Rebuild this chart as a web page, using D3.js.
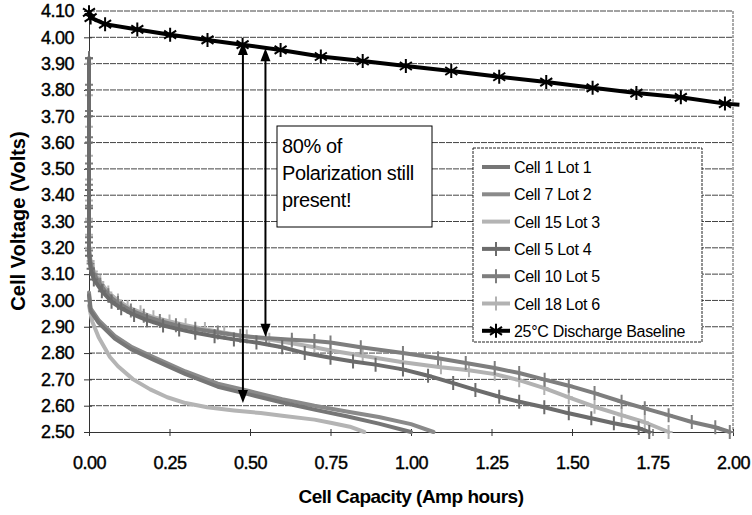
<!DOCTYPE html>
<html>
<head>
<meta charset="utf-8">
<script src="https://cdn.jsdelivr.net/npm/d3@7"></script>
<style>
  body { margin: 0; background: #fff; }
  text { font-family: "Liberation Sans", Arial, sans-serif; fill: #000; }
</style>
</head>
<body>
<div id="chart"></div>
<script>
// tick values
var xTicks = [0, 0.25, 0.5, 0.75, 1.0, 1.25, 1.5, 1.75, 2.0]
var yTicks = [2.5, 2.6, 2.7, 2.8, 2.9, 3.0, 3.1, 3.2, 3.3, 3.4, 3.5, 3.6, 3.7, 3.8, 3.9, 4.0, 4.1]

// legend labels and series colours (grey shades of the scan)
var seriesNames = ['Cell 1 Lot 1', 'Cell 7 Lot 2', 'Cell 15 Lot 3', 'Cell 5 Lot 4', 'Cell 10 Lot 5', 'Cell 18 Lot 6', '25°C Discharge Baseline']
var seriesColors = ['#767676', '#8a8a8a', '#b4b4b4', '#6c6c6c', '#7e7e7e', '#b2b2b2', '#000']
var seriesMarkers = ['none', 'none', 'none', 'plus', 'plus', 'plus', 'star']

// [capacity Ah, voltage V]
var lot1 = [[0, 3.02], [0.005, 2.96], [0.03, 2.915], [0.08, 2.855], [0.13, 2.815], [0.2, 2.775], [0.3, 2.72], [0.4, 2.672], [0.5, 2.642], [0.6, 2.612], [0.7, 2.585], [0.8, 2.56], [0.9, 2.532], [1.0, 2.50]]
var lot2 = [[0, 3.03], [0.005, 2.97], [0.03, 2.925], [0.08, 2.865], [0.13, 2.825], [0.2, 2.785], [0.3, 2.73], [0.4, 2.684], [0.5, 2.655], [0.6, 2.625], [0.7, 2.6], [0.8, 2.578], [0.9, 2.557], [1.0, 2.53], [1.07, 2.50]]
var lot3 = [[0, 2.98], [0.01, 2.92], [0.03, 2.86], [0.065, 2.785], [0.09, 2.75], [0.137, 2.70], [0.19, 2.662], [0.243, 2.632], [0.3, 2.61], [0.367, 2.594], [0.45, 2.582], [0.533, 2.572], [0.6, 2.562], [0.7, 2.547], [0.75, 2.535], [0.81, 2.52], [0.855, 2.50]]
var lot4 = [[0, 3.92], [0, 3.80], [0, 3.70], [0, 3.60], [0, 3.50], [0, 3.42], [0, 3.35], [0, 3.28], [0, 3.22], [0, 3.17], [0.005, 3.12], [0.015, 3.08], [0.04, 3.035], [0.07, 2.995], [0.1, 2.97], [0.14, 2.945], [0.18, 2.925], [0.23, 2.905], [0.28, 2.89], [0.33, 2.877], [0.39, 2.864], [0.45, 2.852], [0.52, 2.84], [0.6, 2.822], [0.67, 2.80], [0.75, 2.782], [0.82, 2.768], [0.89, 2.756], [0.975, 2.738], [1.053, 2.714], [1.131, 2.686], [1.2, 2.66], [1.274, 2.634], [1.336, 2.615], [1.414, 2.594], [1.49, 2.571], [1.56, 2.552], [1.63, 2.533], [1.707, 2.515], [1.74, 2.50]]
var lot5 = [[0, 3.92], [0, 3.82], [0, 3.72], [0, 3.62], [0, 3.52], [0, 3.44], [0, 3.36], [0, 3.30], [0, 3.24], [0, 3.19], [0.005, 3.14], [0.015, 3.10], [0.035, 3.06], [0.06, 3.02], [0.09, 2.99], [0.13, 2.962], [0.17, 2.942], [0.22, 2.922], [0.27, 2.906], [0.33, 2.892], [0.4, 2.878], [0.47, 2.866], [0.55, 2.857], [0.63, 2.851], [0.7, 2.846], [0.75, 2.84], [0.844, 2.822], [0.975, 2.80], [1.084, 2.78], [1.17, 2.762], [1.26, 2.743], [1.336, 2.724], [1.415, 2.699], [1.49, 2.676], [1.57, 2.648], [1.654, 2.615], [1.726, 2.59], [1.80, 2.564], [1.872, 2.538], [1.945, 2.518], [1.99, 2.50]]
var lot6 = [[0, 3.90], [0, 3.78], [0, 3.66], [0, 3.55], [0, 3.46], [0, 3.38], [0, 3.31], [0, 3.25], [0, 3.20], [0.005, 3.15], [0.015, 3.11], [0.035, 3.07], [0.06, 3.03], [0.09, 3.0], [0.12, 2.975], [0.16, 2.955], [0.2, 2.936], [0.25, 2.92], [0.3, 2.906], [0.36, 2.891], [0.42, 2.877], [0.49, 2.863], [0.56, 2.851], [0.63, 2.837], [0.7, 2.822], [0.75, 2.81], [0.85, 2.79], [0.975, 2.765], [1.093, 2.746], [1.18, 2.735], [1.26, 2.72], [1.336, 2.697], [1.414, 2.667], [1.49, 2.632], [1.57, 2.596], [1.654, 2.564], [1.726, 2.537], [1.80, 2.50]]
var baseline = [[0, 4.095], [0.005, 4.075], [0.05, 4.05], [0.15, 4.03], [0.252, 4.01], [0.368, 3.99], [0.477, 3.972], [0.595, 3.952], [0.72, 3.927], [0.85, 3.91], [0.984, 3.891], [1.125, 3.872], [1.274, 3.85], [1.42, 3.83], [1.564, 3.808], [1.70, 3.788], [1.838, 3.772], [1.975, 3.748]]
var baselineEnd = [2.02, 3.744]

// annotation: double arrows [x, top V, bottom V] and text box lines
var arrows = [[0.478, 3.982, 2.61], [0.548, 3.958, 2.862]]
var noteLines = ['80% of', 'Polarization still', 'present!']

var allSeries = [lot1, lot2, lot3, lot4, lot5, lot6, baseline]

var width = 752
var height = 515
var margin = { top: 11, right: 19, bottom: 83, left: 89 }

var svg = d3.select('#chart')
    .append('svg')
    .attr('width', width)
    .attr('height', height)

var x = d3.scaleLinear()
    .domain([0, 2])
    .range([margin.left, width - margin.right])

var y = d3.scaleLinear()
    .domain([2.5, 4.1])
    .range([height - margin.bottom, margin.top])

// horizontal grid lines
svg.append('g')
    .selectAll('line')
    .data(yTicks.slice(1))
    .enter()
    .append('line')
    .attr('x1', x(0))
    .attr('x2', x(2))
    .attr('y1', function (d) { return y(d) })
    .attr('y2', function (d) { return y(d) })
    .attr('stroke', '#444')
    .attr('stroke-width', 1)
    .attr('stroke-dasharray', '6,1')

// right border of the plot
svg.append('line')
    .attr('x1', x(2)).attr('x2', x(2))
    .attr('y1', y(4.1)).attr('y2', y(2.5))
    .attr('stroke', '#555')
    .attr('stroke-dasharray', '3,1')

// axes
var xAxis = svg.append('g')
    .attr('transform', 'translate(0,' + y(2.5) + ')')
    .call(d3.axisBottom(x).tickValues(xTicks).tickFormat(d3.format('.2f')).tickSizeInner(4).tickSizeOuter(0).tickPadding(20))
var yAxis = svg.append('g')
    .attr('transform', 'translate(' + x(0) + ',0)')
    .call(d3.axisLeft(y).tickValues(yTicks).tickFormat(d3.format('.2f')).tickSizeInner(5).tickSizeOuter(0).tickPadding(10))

// ticks cross the axis line a little
xAxis.selectAll('.tick line').attr('y1', -3).attr('stroke', '#333')
yAxis.selectAll('.tick line').attr('x1', 3).attr('stroke', '#333')
xAxis.select('.domain').attr('stroke', '#333')
yAxis.select('.domain').attr('stroke', '#333')

// scanned labels look heavy, so give them a thin outline
svg.selectAll('.tick text')
    .style('font-family', '"Liberation Sans", Arial, sans-serif')
    .style('font-size', '18px')
    .style('letter-spacing', '-0.5px')
    .attr('fill', '#000')
    .attr('stroke', '#000')
    .attr('stroke-width', 0.4)

// axis titles
svg.append('text')
    .attr('x', 411)
    .attr('y', 503)
    .attr('text-anchor', 'middle')
    .style('font-size', '19px')
    .style('font-weight', 'bold')
    .style('letter-spacing', '-0.5px')
    .text('Cell Capacity (Amp hours)')

svg.append('text')
    .attr('transform', 'translate(25,221) rotate(-90)')
    .attr('text-anchor', 'middle')
    .style('font-size', '20px')
    .style('font-weight', 'bold')
    .text('Cell Voltage (Volts)')

var line = d3.line()
    .x(function (d) { return x(d[0]) })
    .y(function (d) { return y(d[1]) })

// marker shapes
function markerPath(kind) {
    if (kind == 'plus') return 'M0,-7V7M-4,0H4'
    if (kind == 'star') return 'M0,-7V7M-6,-4L6,4M-6,4L6,-4'
    return ''
}

// draw the discharge curves, lower cells first so the upper bundle sits on top
var order = [2, 1, 0, 5, 4, 3]
order.forEach(function (i) {
    var data = allSeries[i]
    svg.append('path')
        .datum(data)
        .attr('d', line)
        .attr('fill', 'none')
        .attr('stroke', seriesColors[i])
        .attr('stroke-width', 4)
        .attr('stroke-linejoin', 'round')
        .attr('stroke-linecap', 'round')
    if (seriesMarkers[i] != 'none') {
        svg.append('g')
            .selectAll('path')
            .data(data)
            .enter()
            .append('path')
            .attr('transform', function (d) { return 'translate(' + x(d[0]) + ',' + y(d[1]) + ')' })
            .attr('d', markerPath(seriesMarkers[i]))
            .attr('stroke', seriesColors[i])
            .attr('stroke-width', 2)
    }
})

// baseline with star markers
svg.append('path')
    .datum(baseline.concat([baselineEnd]))
    .attr('d', line)
    .attr('fill', 'none')
    .attr('stroke', '#000')
    .attr('stroke-width', 4)
svg.append('g')
    .selectAll('path')
    .data(baseline)
    .enter()
    .append('path')
    .attr('transform', function (d) { return 'translate(' + x(d[0]) + ',' + y(d[1]) + ')' })
    .attr('d', markerPath('star'))
    .attr('stroke', '#000')
    .attr('stroke-width', 2)

// double headed arrows
var arrowG = svg.append('g')
arrows.forEach(function (a) {
    var ax = x(a[0]), top = y(a[1]), bot = y(a[2])
    arrowG.append('line')
        .attr('x1', ax).attr('x2', ax)
        .attr('y1', top + 10).attr('y2', bot - 10)
        .attr('stroke', '#000')
        .attr('stroke-width', 2)
    arrowG.append('path')
        .attr('d', 'M' + ax + ',' + top + 'l-5,13h10z')
        .attr('fill', '#000')
    arrowG.append('path')
        .attr('d', 'M' + ax + ',' + bot + 'l-5,-13h10z')
        .attr('fill', '#000')
})

// annotation box
var note = svg.append('g').attr('transform', 'translate(277,126)')
note.append('rect')
    .attr('width', 155)
    .attr('height', 101)
    .attr('fill', '#fff')
    .attr('stroke', '#000')
    .attr('stroke-width', 1)
note.selectAll('text')
    .data(noteLines)
    .enter()
    .append('text')
    .attr('x', 5)
    .attr('y', function (d, i) { return 27 + i * 27 })
    .style('font-size', '20px')
    .style('letter-spacing', '-0.4px')
    .text(function (d) { return d })

// legend
var legend = svg.append('g').attr('transform', 'translate(473,148)')
legend.append('rect')
    .attr('width', 229)
    .attr('height', 194)
    .attr('fill', '#fff')
    .attr('stroke', '#222')
    .attr('stroke-width', 1)
    .attr('stroke-dasharray', '3,1')

var rows = legend.selectAll('.row')
    .data(seriesNames)
    .enter()
    .append('g')
    .attr('class', 'row')
    .attr('transform', function (d, i) { return 'translate(0,' + (19 + i * 27.3) + ')' })

rows.append('line')
    .attr('x1', 9).attr('x2', 37)
    .attr('stroke', function (d, i) { return seriesColors[i] })
    .attr('stroke-width', 4)
rows.append('path')
    .attr('transform', 'translate(23,0)')
    .attr('d', function (d, i) { return markerPath(seriesMarkers[i]) })
    .attr('stroke', function (d, i) { return seriesColors[i] })
    .attr('stroke-width', 2)
rows.append('text')
    .attr('x', 41)
    .attr('y', 6)
    .style('font-size', '16px')
    .style('letter-spacing', '-0.3px')
    .text(function (d) { return d })
</script>
</body>
</html>
